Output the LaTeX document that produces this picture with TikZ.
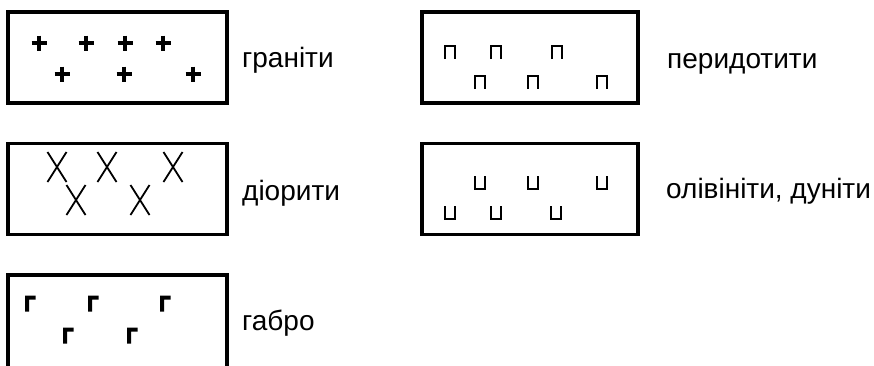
\documentclass[tikz,border=0pt]{standalone}
\usepackage{fontspec}
\setmainfont{Liberation Sans}

\tikzset{
  legendbox/.style={draw, line width=3.5pt, inner sep=0pt, minimum height=91pt},
  rocklabel/.style={anchor=base west, inner sep=0pt, font=\fontsize{28}{31}\selectfont},
  pics/plussign/.style={code={\draw[line width=3.8pt] (-7.5,0) -- (7.5,0) (0,-7.5) -- (0,7.5);}},
  pics/xsign/.style={code={\draw[line width=1.8pt] (-9.5,-15) -- (9.5,15) (-9.5,15) -- (9.5,-15);}},
  pics/gesign/.style={code={\fill (-5,8.5) -- (-5,-7.5) -- (5.5,-7.5) -- (5.5,-3.5) -- (-1,-3.5) -- (-1,8.5) -- cycle;}},
  pics/pesign/.style={code={\draw[line width=2.4pt] (-5,7) -- (-5,-6) -- (5,-6) -- (5,7);}},
  pics/usign/.style={code={\draw[line width=2.4pt] (-5,-7) -- (-5,6) -- (5,6) -- (5,-7);}}
}

\begin{document}
\begin{tikzpicture}[x=1pt,y=-1pt]
\useasboundingbox (0,0) rectangle (874,365);
\clip (0,0) rectangle (874,365);

\node[legendbox, minimum width=219pt] (granite) at (117.5,57.5) {};
\node[legendbox, minimum width=219pt] (diorite) at (117.5,189) {};
\node[legendbox, minimum width=219pt, minimum height=100pt] (gabbro) at (117.5,325) {};
\node[legendbox, minimum width=216pt] (peridot) at (530,57.5) {};
\node[legendbox, minimum width=216pt] (olivin) at (530,189) {};

\node[rocklabel] (granite-txt) at (242,67) {граніти};
\node[rocklabel] (diorite-txt) at (242,200) {діорити};
\node[rocklabel] (gabbro-txt) at (242,330) {габро};
\node[rocklabel] (peridot-txt) at (667,68) {перидотити};
\node[rocklabel] (olivin-txt) at (666,198) {олівініти, дуніти};

% signs inside the boxes
\foreach \x/\y in {39/43, 86/43, 125/43, 163/43, 62/74, 124/74, 193/74}
  \pic at (\x,\y) {plussign};
\foreach \x/\y in {57/167, 107/167, 173/167, 76/200, 140/200}
  \pic at (\x,\y) {xsign};
\foreach \x/\y in {30/303, 93/303, 165/303, 68/335, 132/335}
  \pic at (\x,\y) {gesign};
\foreach \x/\y in {450/52, 496/52, 557/52, 480/82, 533/82, 602/82}
  \pic at (\x,\y) {pesign};
\foreach \x/\y in {480/183, 533/183, 602/183, 450/213, 496/213, 556/213}
  \pic at (\x,\y) {usign};
\end{tikzpicture}
\end{document}
